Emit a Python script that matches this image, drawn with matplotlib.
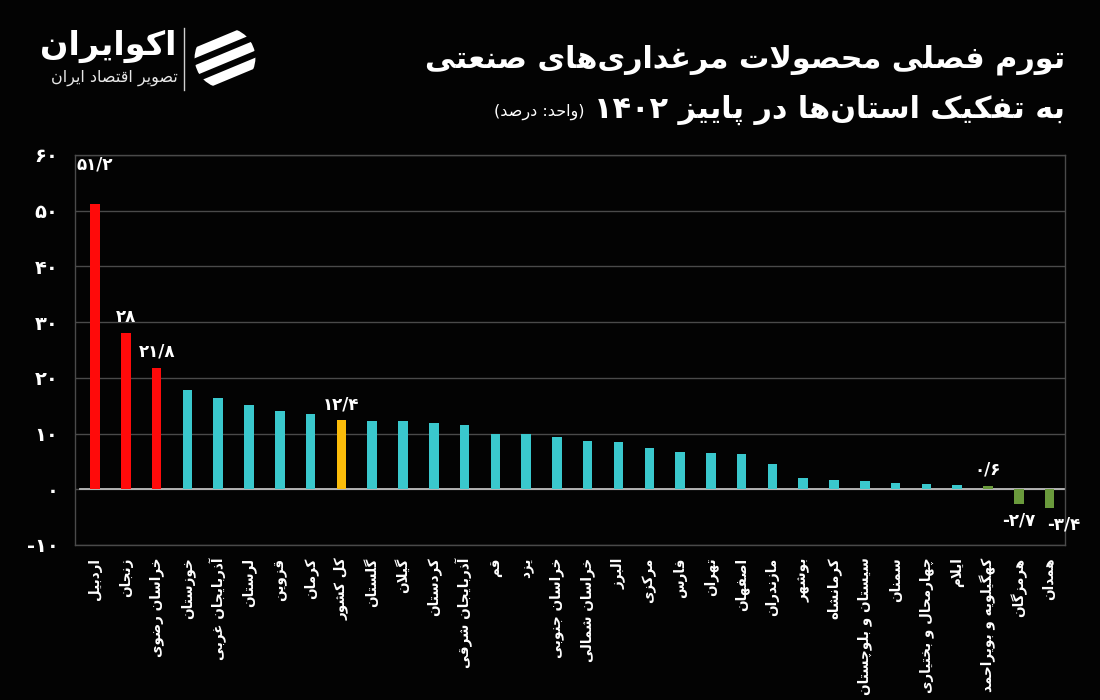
import re
import matplotlib
matplotlib.use("Agg")
import matplotlib.pyplot as plt
from matplotlib.patches import Circle
import numpy as np

# ---------------- data ----------------
provinces = [
    "اردبیل", "زنجان", "خراسان رضوی", "خوزستان", "آذربایجان غربی", "لرستان",
    "قزوین", "کرمان", "کل کشور", "گلستان", "گیلان", "کردستان", "آذربایجان شرقی",
    "قم", "یزد", "خراسان جنوبی", "خراسان شمالی", "البرز", "مرکزی", "فارس",
    "تهران", "اصفهان", "مازندران", "بوشهر", "کرمانشاه", "سیستان و بلوچستان",
    "سمنان", "چهارمحال و بختیاری", "ایلام", "کهگیلویه و بویراحمد", "هرمزگان", "همدان",
]
values = [
    51.2, 28.0, 21.8, 17.8, 16.3, 15.2,
    14.1, 13.5, 12.4, 12.2, 12.2, 11.9, 11.5,
    9.9, 9.9, 9.3, 8.7, 8.4, 7.4, 6.7,
    6.5, 6.4, 4.5, 2.0, 1.6, 1.4,
    1.2, 1.0, 0.85, 0.6, -2.7, -3.4,
]
groups = ["top"] * 3 + ["mid"] * 5 + ["total"] + ["mid"] * 20 + ["low"] * 3
labeled = ["اردبیل", "زنجان", "خراسان رضوی", "کل کشور", "کهگیلویه و بویراحمد", "هرمزگان", "همدان"]
yticks = [-10, 0, 10, 20, 30, 40, 50, 60]

title1 = "تورم فصلی محصولات مرغداری‌های صنعتی"
title2 = "به تفکیک استان‌ها در پاییز ۱۴۰۲"
unit_txt = "(واحد: درصد)"
brand = "اکوایران"
brand_sub = "تصویر اقتصاد ایران"

# ---------------- Persian shaping helpers ----------------
FORMS = {
    '\u0627': ('\uFE8D', '\uFE8E', None, None),
    '\u0622': ('\uFE81', '\uFE82', None, None),
    '\u0628': ('\uFE8F', '\uFE90', '\uFE91', '\uFE92'),
    '\u067E': ('\uFB56', '\uFB57', '\uFB58', '\uFB59'),
    '\u062A': ('\uFE95', '\uFE96', '\uFE97', '\uFE98'),
    '\u062B': ('\uFE99', '\uFE9A', '\uFE9B', '\uFE9C'),
    '\u062C': ('\uFE9D', '\uFE9E', '\uFE9F', '\uFEA0'),
    '\u0686': ('\uFB7A', '\uFB7B', '\uFB7C', '\uFB7D'),
    '\u062D': ('\uFEA1', '\uFEA2', '\uFEA3', '\uFEA4'),
    '\u062E': ('\uFEA5', '\uFEA6', '\uFEA7', '\uFEA8'),
    '\u062F': ('\uFEA9', '\uFEAA', None, None),
    '\u0630': ('\uFEAB', '\uFEAC', None, None),
    '\u0631': ('\uFEAD', '\uFEAE', None, None),
    '\u0632': ('\uFEAF', '\uFEB0', None, None),
    '\u0698': ('\uFB8A', '\uFB8B', None, None),
    '\u0633': ('\uFEB1', '\uFEB2', '\uFEB3', '\uFEB4'),
    '\u0634': ('\uFEB5', '\uFEB6', '\uFEB7', '\uFEB8'),
    '\u0635': ('\uFEB9', '\uFEBA', '\uFEBB', '\uFEBC'),
    '\u0636': ('\uFEBD', '\uFEBE', '\uFEBF', '\uFEC0'),
    '\u0637': ('\uFEC1', '\uFEC2', '\uFEC3', '\uFEC4'),
    '\u0638': ('\uFEC5', '\uFEC6', '\uFEC7', '\uFEC8'),
    '\u0639': ('\uFEC9', '\uFECA', '\uFECB', '\uFECC'),
    '\u063A': ('\uFECD', '\uFECE', '\uFECF', '\uFED0'),
    '\u0641': ('\uFED1', '\uFED2', '\uFED3', '\uFED4'),
    '\u0642': ('\uFED5', '\uFED6', '\uFED7', '\uFED8'),
    '\u06A9': ('\uFB8E', '\uFB8F', '\uFB90', '\uFB91'),
    '\u06AF': ('\uFB92', '\uFB93', '\uFB94', '\uFB95'),
    '\u0644': ('\uFEDD', '\uFEDE', '\uFEDF', '\uFEE0'),
    '\u0645': ('\uFEE1', '\uFEE2', '\uFEE3', '\uFEE4'),
    '\u0646': ('\uFEE5', '\uFEE6', '\uFEE7', '\uFEE8'),
    '\u0648': ('\uFEED', '\uFEEE', None, None),
    '\u0647': ('\uFEE9', '\uFEEA', '\uFEEB', '\uFEEC'),
    '\u06CC': ('\uFBFC', '\uFBFD', '\uFBFE', '\uFBFF'),
}
LAMALEF = {'\u0627': ('\uFEFB', '\uFEFC'), '\u0622': ('\uFEF5', '\uFEF6')}


def _jt(c):
    if c in FORMS:
        return 'D' if FORMS[c][2] else 'R'
    return 'U'


def shape(s):
    out = []
    n = len(s)
    i = 0
    while i < n:
        c = s[i]
        if c not in FORMS:
            if c != '\u200c':
                out.append(c)
            i += 1
            continue
        prev = s[i - 1] if i > 0 else None
        pj = prev is not None and _jt(prev) == 'D'
        if c == '\u0644' and i + 1 < n and s[i + 1] in LAMALEF:
            out.append(LAMALEF[s[i + 1]][1 if pj else 0])
            i += 2
            continue
        nxt = s[i + 1] if i + 1 < n else None
        nj = _jt(c) == 'D' and nxt is not None and _jt(nxt) in 'DR'
        iso, fin, ini, med = FORMS[c]
        if pj and nj:
            out.append(med)
        elif pj:
            out.append(fin)
        elif nj:
            out.append(ini)
        else:
            out.append(iso)
        i += 1
    return ''.join(out)


_MIRROR = str.maketrans({'(': ')', ')': '('})
_LTR = r'[0-9\u06F0-\u06F9/]'


def fa(s):
    t = shape(s)
    runs = re.findall(_LTR + r'+|[^0-9\u06F0-\u06F9/]+', t)
    res = []
    for r in reversed(runs):
        if re.match(_LTR, r):
            res.append(r)
        else:
            res.append(r[::-1].translate(_MIRROR))
    return ''.join(res)


_DIG = str.maketrans('0123456789', '۰۱۲۳۴۵۶۷۸۹')


def fa_num(v):
    s = f"{abs(v):g}".replace('.', '/').translate(_DIG)
    return ('-' + s) if v < 0 else s


# ---------------- style ----------------
BG = '#030303'
COLORS = {'top': '#ff0a0a', 'mid': '#3ac8cd', 'total': '#fbbc0a', 'low': '#6a9a3c'}
GRID = '#4a4a4a'
FONT = ['DejaVu Sans']
plt.rcParams['font.family'] = FONT

fig = plt.figure(figsize=(11, 7), dpi=100, facecolor=BG)
ax = fig.add_axes([75 / 1100, 1 - 545 / 700, 990 / 1100, 390 / 700])
ax.set_facecolor(BG)

x = np.arange(len(provinces))
cols = [COLORS[g] for g in groups]
ax.bar(x, values, width=0.31, color=cols, zorder=3)

ax.set_xlim(-0.65, len(provinces) - 0.5)
ax.set_ylim(-10, 60)
ax.set_yticks(yticks)
ax.set_yticklabels([fa_num(t) for t in yticks], color='white', fontsize=14, fontweight='bold')
ax.tick_params(axis='y', length=0, pad=12)
ax.set_xticks(x)
xl = ax.set_xticklabels([fa(p) for p in provinces], rotation=90, color='white',
                        fontsize=10.5, fontweight='bold', ha='center', va='top')
ax.tick_params(axis='x', length=0, pad=9)
ax.yaxis.grid(True, color=GRID, linewidth=1, zorder=0)
ax.set_axisbelow(True)
ax.axhline(0, color='#bdbdbd', linewidth=1.3, zorder=2, xmin=0.005)
for sp in ax.spines.values():
    sp.set_color(GRID)
    sp.set_linewidth(1)

fig.canvas.draw()
r = fig.canvas.get_renderer()
longest = max(t.get_window_extent(r).height for t in xl)
lfs = 10.5 * 138 / longest
for t in xl:
    t.set_fontsize(lfs)

label_offsets = {"اردبیل": (0, 22), "همدان": (10, -5)}
for xi, v, p in zip(x, values, provinces):
    if p in labeled:
        dx, dy = label_offsets.get(p, (0, 5 if v >= 0 else -5))
        ax.annotate(fa_num(v), (xi, v), xytext=(dx, dy), textcoords='offset points',
                    ha='center', va='bottom' if v >= 0 else 'top',
                    color='white', fontsize=12, fontweight='bold')

# ---------------- titles ----------------
t1 = fig.text(1065 / 1100, 1 - 60 / 700, fa(title1), ha='right', va='center',
              color='white', fontsize=22, fontweight='bold')
w = t1.get_window_extent(r).width
fs = 22 * 640 / w
t1.set_fontsize(fs)
t2 = fig.text(1065 / 1100, 1 - 110 / 700, fa(title2), ha='right', va='center',
              color='white', fontsize=fs, fontweight='bold')
bb = t2.get_window_extent(r)
fig.text((bb.x0 - 10) / 1100, 1 - 112 / 700, fa(unit_txt), ha='right', va='center',
         color='white', fontsize=11.5)

# ---------------- brand ----------------
fig.text(176 / 1100, 1 - 46 / 700, fa(brand), ha='right', va='center',
         color='white', fontsize=24, fontweight='bold')
fig.text(178 / 1100, 1 - 78 / 700, fa(brand_sub), ha='right', va='center',
         color='#e8e8e8', fontsize=11.5)
fig.add_artist(plt.Line2D([184 / 1100, 184 / 1100], [1 - 28 / 700, 1 - 90 / 700],
                          color='#cfcfcf', linewidth=1))
iax = fig.add_axes([193 / 1100, 1 - 90 / 700, 64 / 1100, 64 / 700])
iax.set_xlim(-1, 1)
iax.set_ylim(-1, 1)
iax.set_aspect('equal')
iax.axis('off')
clip = Circle((0, 0), 0.95, transform=iax.transData)
for off in (-0.55, 0.0, 0.55):
    ln, = iax.plot([-1.2, 1.2], [-0.5 + off, 0.5 + off], color='white', linewidth=7,
                   solid_capstyle='round')
    ln.set_clip_path(clip)

fig.savefig('out.png', dpi=100, facecolor=BG)
